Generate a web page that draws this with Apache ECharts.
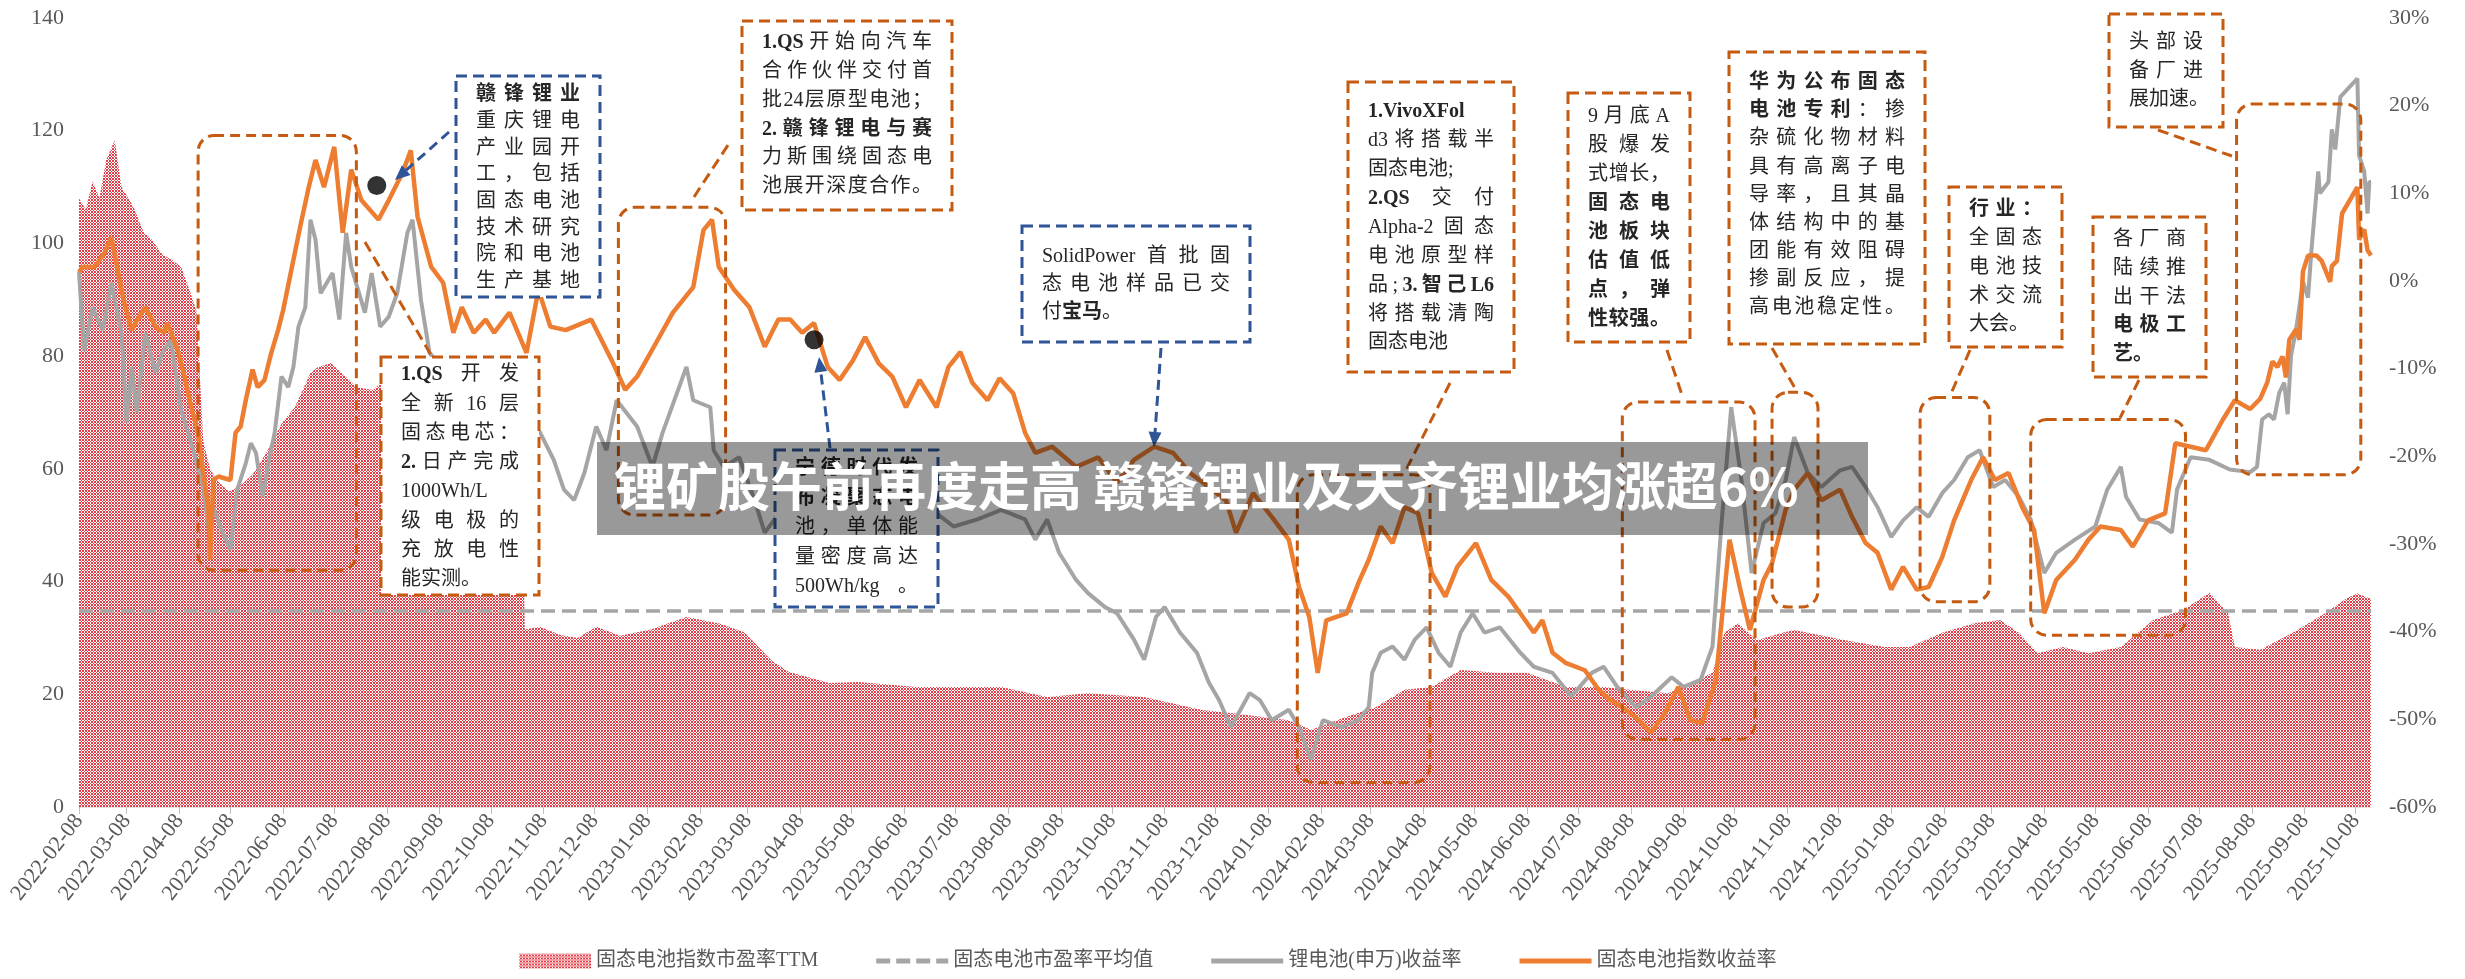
<!DOCTYPE html>
<html><head><meta charset="utf-8">
<script src="https://cdn.jsdelivr.net/npm/echarts@6/dist/echarts.min.js"></script>
<style>html,body{margin:0;padding:0;background:#fff}#c{width:2465px;height:979px}</style>
</head><body><div id="c"></div>
<script>
// ---------------- data ----------------
const monthTicks = ['2022-02-08','2022-03-08','2022-04-08','2022-05-08','2022-06-08','2022-07-08','2022-08-08','2022-09-08','2022-10-08','2022-11-08','2022-12-08','2023-01-08','2023-02-08','2023-03-08','2023-04-08','2023-05-08','2023-06-08','2023-07-08','2023-08-08','2023-09-08','2023-10-08','2023-11-08','2023-12-08','2024-01-08','2024-02-08','2024-03-08','2024-04-08','2024-05-08','2024-06-08','2024-07-08','2024-08-08','2024-09-08','2024-10-08','2024-11-08','2024-12-08','2025-01-08','2025-02-08','2025-03-08','2025-04-08','2025-05-08','2025-06-08','2025-07-08','2025-08-08','2025-09-08','2025-10-08'];
const axisStart = '2022-02-08';
const axisEnd = '2025-10-17';

const peTTM = [['2022-02-08',108],['2022-02-12',106],['2022-02-16',111],['2022-02-20',108],['2022-02-24',114.8],['2022-03-01',118.3],['2022-03-05',110],['2022-03-12',106.5],['2022-03-18',102],['2022-03-23',100.6],['2022-03-29',98],['2022-04-04',97],['2022-04-09',95.8],['2022-04-14',91.7],['2022-04-18',88],['2022-04-22',65],['2022-04-26',60],['2022-04-30',58],['2022-05-07',56],['2022-05-13',56.8],['2022-05-21',59],['2022-05-29',62.8],['2022-06-07',68],['2022-06-15',71],['2022-06-24',77],['2022-06-28',78],['2022-07-06',78.8],['2022-07-15',76.3],['2022-07-21',74.5],['2022-07-31',74],['2022-08-04',75.2],['2022-08-27',77],['2022-09-20',76],['2022-10-13',77],['2022-10-25',75],['2022-10-28',31.5],['2022-11-06',32],['2022-11-18',30.5],['2022-11-28',30],['2022-12-09',32],['2022-12-23',30.4],['2023-01-10',31.5],['2023-01-31',33.7],['2023-02-20',32.5],['2023-03-06',31],['2023-03-22',26],['2023-04-01',24],['2023-04-25',22],['2023-05-12',22.2],['2023-06-15',21.3],['2023-08-04',21.3],['2023-08-31',19.5],['2023-09-24',20.2],['2023-10-27',19.5],['2023-11-30',17.2],['2023-12-17',16.7],['2024-01-20',15.4],['2024-02-02',13.7],['2024-02-23',16],['2024-03-11',17.7],['2024-03-28',20.8],['2024-04-13',21.3],['2024-04-30',24.3],['2024-05-21',23.8],['2024-06-08',23.8],['2024-07-01',21.3],['2024-07-23',21.3],['2024-08-07',20.8],['2024-08-30',20.2],['2024-09-13',22],['2024-09-25',23.8],['2024-10-02',30.9],['2024-10-10',32.6],['2024-10-21',29.6],['2024-11-05',30.9],['2024-11-12',31.4],['2024-12-12',29.6],['2025-01-04',28.4],['2025-01-19',28.4],['2025-02-07',30.9],['2025-02-26',32.6],['2025-03-13',33.2],['2025-03-24',30.9],['2025-04-04',27.3],['2025-04-19',28.4],['2025-05-04',27.3],['2025-05-23',28.4],['2025-06-11',33.2],['2025-06-29',35],['2025-07-14',38],['2025-07-25',34.4],['2025-07-29',28.4],['2025-08-13',27.9],['2025-09-01',30.9],['2025-09-20',34.4],['2025-10-03',37.1],['2025-10-09',37.9],['2025-10-17',36.9]];

const peAverage = 34.8;

const lithiumReturn = [['2022-02-08',1.0],['2022-02-11',-8.0],['2022-02-16',-3.0],['2022-02-22',-5.6],['2022-02-27',-0.2],['2022-03-05',-5.9],['2022-03-08',-16.2],['2022-03-11',-9.8],['2022-03-14',-15.0],['2022-03-19',-5.9],['2022-03-25',-10.5],['2022-03-29',-8.2],['2022-04-03',-6.7],['2022-04-09',-14.7],['2022-04-14',-17.8],['2022-04-22',-23.5],['2022-04-25',-28.0],['2022-04-28',-25.8],['2022-05-02',-28.0],['2022-05-08',-30.7],['2022-05-12',-23.8],['2022-05-17',-20.8],['2022-05-20',-18.5],['2022-05-23',-19.6],['2022-05-27',-24.6],['2022-05-31',-20.1],['2022-06-03',-17.3],['2022-06-07',-10.9],['2022-06-11',-12.1],['2022-06-14',-9.8],['2022-06-17',-5.2],['2022-06-21',-3.0],['2022-06-24',7.0],['2022-06-27',4.7],['2022-06-30',-1.4],['2022-07-07',0.9],['2022-07-11',-4.4],['2022-07-15',5.5],['2022-07-18',1.6],['2022-07-26',-3.6],['2022-07-30',0.9],['2022-08-04',-5.2],['2022-08-09',-4.1],['2022-08-14',-1.4],['2022-08-20',5.5],['2022-08-23',7.0],['2022-08-28',-2.2],['2022-09-02',-8.2],['2022-09-14',-11.0],['2022-09-26',-14.0],['2022-10-08',-12.0],['2022-10-19',-15.0],['2022-10-31',-16.0],['2022-11-06',-17.3],['2022-11-14',-20.4],['2022-11-20',-23.8],['2022-11-26',-25.0],['2022-12-02',-21.9],['2022-12-09',-16.6],['2022-12-15',-19.3],['2022-12-21',-13.6],['2023-01-02',-16.6],['2023-01-11',-21.2],['2023-01-17',-17.3],['2023-01-31',-9.8],['2023-02-04',-13.6],['2023-02-14',-14.4],['2023-02-16',-19.3],['2023-02-22',-21.2],['2023-03-03',-20.1],['2023-03-12',-25.0],['2023-03-18',-28.7],['2023-03-25',-26.9],['2023-03-30',-24.2],['2023-04-08',-25.0],['2023-04-18',-29.5],['2023-05-02',-28.4],['2023-05-15',-26.5],['2023-05-28',-25.0],['2023-06-03',-28.0],['2023-06-17',-29.5],['2023-06-27',-26.5],['2023-07-07',-28.0],['2023-07-21',-27.2],['2023-08-04',-26.1],['2023-08-18',-27.2],['2023-08-24',-29.5],['2023-08-31',-27.2],['2023-09-07',-31.0],['2023-09-17',-34.1],['2023-09-24',-35.6],['2023-10-04',-37.2],['2023-10-11',-37.9],['2023-10-21',-40.9],['2023-10-27',-43.2],['2023-11-03',-38.3],['2023-11-08',-37.2],['2023-11-17',-40.1],['2023-11-27',-42.4],['2023-12-04',-45.8],['2023-12-10',-47.8],['2023-12-17',-50.9],['2023-12-28',-47.0],['2024-01-03',-47.8],['2024-01-10',-50.1],['2024-01-20',-48.9],['2024-01-26',-50.9],['2024-02-02',-54.6],['2024-02-09',-50.1],['2024-02-20',-50.9],['2024-03-01',-50.1],['2024-03-07',-48.6],['2024-03-09',-44.7],['2024-03-14',-42.4],['2024-03-21',-41.7],['2024-03-28',-43.2],['2024-04-03',-40.9],['2024-04-10',-39.5],['2024-04-17',-42.4],['2024-04-24',-44.0],['2024-04-30',-40.1],['2024-05-07',-37.9],['2024-05-14',-40.1],['2024-05-23',-39.5],['2024-06-04',-42.4],['2024-06-12',-44.0],['2024-06-23',-44.7],['2024-07-04',-47.4],['2024-07-16',-44.7],['2024-07-23',-44.0],['2024-07-31',-46.3],['2024-08-11',-48.6],['2024-08-20',-47.4],['2024-09-01',-45.2],['2024-09-08',-46.3],['2024-09-18',-45.5],['2024-09-25',-41.7],['2024-09-30',-28.4],['2024-10-06',-14.4],['2024-10-12',-22.7],['2024-10-18',-33.3],['2024-10-25',-27.6],['2024-11-01',-26.5],['2024-11-07',-22.7],['2024-11-12',-17.8],['2024-11-20',-21.9],['2024-11-28',-23.5],['2024-12-09',-21.6],['2024-12-16',-21.2],['2024-12-24',-23.5],['2024-12-31',-25.8],['2025-01-08',-29.2],['2025-01-15',-27.3],['2025-01-23',-25.8],['2025-01-30',-26.9],['2025-02-07',-24.2],['2025-02-14',-22.7],['2025-02-22',-20.1],['2025-03-01',-19.3],['2025-03-09',-23.5],['2025-03-16',-22.7],['2025-03-24',-24.6],['2025-03-31',-27.2],['2025-04-08',-33.3],['2025-04-15',-31.0],['2025-04-26',-29.5],['2025-05-08',-28.0],['2025-05-15',-23.8],['2025-05-23',-21.2],['2025-05-26',-24.6],['2025-06-03',-27.2],['2025-06-14',-27.6],['2025-06-22',-28.7],['2025-06-25',-23.8],['2025-07-03',-20.1],['2025-07-14',-20.4],['2025-07-26',-21.5],['2025-08-07',-21.8],['2025-08-11',-21.2],['2025-08-14',-15.8],['2025-08-18',-15.2],['2025-08-21',-15.8],['2025-08-24',-12.8],['2025-08-27',-11.6],['2025-08-29',-15.2],['2025-08-31',-8.5],['2025-09-03',-5.5],['2025-09-07',-0.1],['2025-09-10',-1.9],['2025-09-12',3.5],['2025-09-16',12.5],['2025-09-17',10.0],['2025-09-22',11.3],['2025-09-24',17.3],['2025-09-26',15.0],['2025-09-29',21.0],['2025-10-09',23.1],['2025-10-10',14.3],['2025-10-13',12.5],['2025-10-15',7.7],['2025-10-16',11.3],['2025-10-17',11.3]];

const solidStateReturn = [['2022-02-08',1.0],['2022-02-10',1.6],['2022-02-17',1.6],['2022-02-23',3.2],['2022-02-27',5.0],['2022-03-06',-2.0],['2022-03-11',-5.6],['2022-03-14',-4.5],['2022-03-19',-3.0],['2022-03-25',-5.2],['2022-03-30',-5.9],['2022-04-01',-4.8],['2022-04-07',-7.9],['2022-04-11',-10.9],['2022-04-15',-14.4],['2022-04-19',-17.3],['2022-04-22',-21.9],['2022-04-25',-25.8],['2022-04-26',-31.8],['2022-04-28',-22.7],['2022-05-01',-22.3],['2022-05-08',-22.7],['2022-05-11',-17.3],['2022-05-14',-16.6],['2022-05-17',-13.6],['2022-05-21',-10.1],['2022-05-24',-12.1],['2022-05-28',-11.3],['2022-06-01',-8.2],['2022-06-05',-5.6],['2022-06-08',-3.3],['2022-06-10',-1.4],['2022-06-14',2.4],['2022-06-18',6.2],['2022-06-23',10.7],['2022-06-27',13.8],['2022-07-02',10.7],['2022-07-08',15.3],['2022-07-13',5.5],['2022-07-18',12.7],['2022-07-24',9.2],['2022-08-03',7.0],['2022-08-09',9.2],['2022-08-17',12.3],['2022-08-22',14.9],['2022-08-26',7.3],['2022-09-03',1.6],['2022-09-10',-0.2],['2022-09-16',-5.9],['2022-09-21',-3.0],['2022-09-28',-5.9],['2022-10-05',-4.4],['2022-10-10',-5.9],['2022-10-19',-3.6],['2022-10-29',-8.2],['2022-11-05',-1.0],['2022-11-12',-5.2],['2022-11-21',-5.6],['2022-12-06',-4.4],['2022-12-18',-9.0],['2022-12-26',-12.4],['2023-01-02',-10.9],['2023-01-13',-7.1],['2023-01-23',-3.6],['2023-02-04',-0.7],['2023-02-10',5.8],['2023-02-15',7.0],['2023-02-19',1.6],['2023-02-28',-1.0],['2023-03-09',-3.0],['2023-03-18',-7.5],['2023-03-26',-4.4],['2023-04-02',-4.4],['2023-04-09',-5.9],['2023-04-16',-4.8],['2023-04-24',-9.8],['2023-05-01',-11.3],['2023-05-09',-9.0],['2023-05-16',-6.4],['2023-05-24',-9.4],['2023-06-01',-10.9],['2023-06-09',-14.4],['2023-06-17',-11.3],['2023-06-27',-14.4],['2023-07-04',-9.8],['2023-07-11',-8.1],['2023-07-18',-11.6],['2023-07-27',-13.6],['2023-08-03',-11.1],['2023-08-11',-12.8],['2023-08-18',-17.3],['2023-08-24',-19.6],['2023-09-03',-18.9],['2023-09-17',-21.2],['2023-09-30',-20.1],['2023-10-11',-23.0],['2023-10-21',-20.4],['2023-11-02',-18.9],['2023-11-13',-19.6],['2023-11-23',-21.9],['2023-12-04',-23.5],['2023-12-14',-25.0],['2023-12-20',-28.7],['2023-12-30',-24.2],['2024-01-10',-26.9],['2024-01-20',-29.5],['2024-01-26',-34.9],['2024-02-01',-38.3],['2024-02-06',-44.7],['2024-02-11',-38.7],['2024-02-23',-37.9],['2024-03-01',-34.4],['2024-03-07',-31.8],['2024-03-14',-28.0],['2024-03-21',-29.9],['2024-03-28',-25.8],['2024-04-05',-26.5],['2024-04-13',-33.3],['2024-04-21',-36.0],['2024-04-28',-32.6],['2024-05-09',-29.9],['2024-05-18',-34.1],['2024-05-28',-36.0],['2024-06-04',-37.9],['2024-06-12',-40.1],['2024-06-17',-38.7],['2024-06-23',-42.4],['2024-07-01',-43.6],['2024-07-12',-44.4],['2024-07-20',-46.6],['2024-07-27',-47.8],['2024-08-03',-48.6],['2024-08-13',-50.1],['2024-08-20',-51.5],['2024-08-28',-49.3],['2024-09-05',-46.3],['2024-09-12',-50.1],['2024-09-19',-50.4],['2024-09-27',-45.5],['2024-10-05',-29.5],['2024-10-11',-34.9],['2024-10-17',-39.8],['2024-10-25',-34.1],['2024-10-30',-32.2],['2024-11-07',-26.1],['2024-11-12',-23.8],['2024-11-20',-21.9],['2024-11-28',-25.0],['2024-12-09',-23.8],['2024-12-16',-26.9],['2024-12-24',-29.9],['2024-12-31',-31.0],['2025-01-08',-35.2],['2025-01-15',-32.6],['2025-01-23',-35.2],['2025-01-30',-34.9],['2025-02-07',-31.5],['2025-02-14',-27.3],['2025-02-24',-22.7],['2025-03-03',-20.1],['2025-03-10',-22.7],['2025-03-18',-21.9],['2025-03-26',-25.8],['2025-04-02',-28.4],['2025-04-08',-37.9],['2025-04-15',-34.1],['2025-04-26',-31.8],['2025-05-04',-29.5],['2025-05-11',-28.0],['2025-05-23',-28.4],['2025-05-30',-30.3],['2025-06-08',-27.3],['2025-06-18',-26.5],['2025-06-24',-18.5],['2025-07-03',-18.9],['2025-07-12',-19.3],['2025-07-22',-15.8],['2025-07-29',-13.6],['2025-08-07',-14.6],['2025-08-13',-13.4],['2025-08-17',-11.6],['2025-08-20',-9.2],['2025-08-23',-9.8],['2025-08-26',-8.6],['2025-08-28',-11.0],['2025-08-30',-6.7],['2025-09-03',-5.5],['2025-09-05',-6.7],['2025-09-07',1.1],['2025-09-10',2.9],['2025-09-15',2.9],['2025-09-18',2.3],['2025-09-23',-0.1],['2025-09-24',1.7],['2025-09-27',2.3],['2025-09-30',7.7],['2025-10-09',10.7],['2025-10-10',4.7],['2025-10-13',5.9],['2025-10-15',3.5],['2025-10-17',2.9]];

const eventDots = [['2022-08-02',10.9],['2023-04-16',-6.7]];

// highlighted periods (date range, return range on the right axis)
const highlightRanges = [
  ['2022-04-19','2022-07-21',16.6,-33.0],
  ['2022-12-22','2023-02-23',8.4,-26.7],
  ['2024-01-25','2024-04-12',-22.1,-57.2],
  ['2024-08-03','2024-10-20',-13.8,-52.3],
  ['2024-10-30','2024-11-26',-12.7,-37.2],
  ['2025-01-25','2025-03-07',-13.3,-36.6],
  ['2025-03-31','2025-06-30',-15.8,-40.4],
  ['2025-07-30','2025-10-11',20.2,-22.1]
];

const seriesNames = ['固态电池指数市盈率TTM','固态电池市盈率平均值','锂电池(申万)收益率','固态电池指数收益率'];
const titleText = '锂矿股午前再度走高 赣锋锂业及天齐锂业均涨超6%';

// callout texts ('**' toggles bold, leading '<' = not justified)
const calloutTexts = [
  ['**赣锋锂业**','重庆锂电','产业园开','工，包括','固态电池','技术研究','院和电池','生产基地'],
  ['**1.QS** 开 发','全新16层','固态电芯：','**2.**日产完成','1000Wh/L','级电极的','充放电性','<能实测。'],
  ['**1.QS**开始向汽车','合作伙伴交付首','批24层原型电池；','**2.赣锋锂电与赛**','力斯围绕固态电','池展开深度合作。'],
  ['**宁德时代发**','**布凝聚态电**','池，单体能','量密度高达','500Wh/kg 。'],
  ['SolidPower首批固','态电池样品已交','<付**宝马**。'],
  ['**1.VivoXFol**','d3将搭载半','<固态电池;','**2.QS** 交 付','Alpha-2固态','电池原型样','品;**3.智己L6**','将搭载清陶','<固态电池'],
  ['9月底A','股爆发','式增长，','**固态电**','**池板块**','**估值低**','**点，弹**','**性较强。**'],
  ['**华为公布固态**','**电池专利**：掺','杂硫化物材料','具有高离子电','导率，且其晶','体结构中的基','团能有效阻碍','掺副反应，提','高电池稳定性。'],
  ['**行业：**','全固态','电池技','术交流','<大会。'],
  ['各厂商','陆续推','出干法','**电极工**','<**艺。**'],
  ['头部设','备厂进','<展加速。']
];

// ---------------- layout / style ----------------
const ORANGE_BOX = '#C55A11', BLUE_BOX = '#2F5597';
const SERIF = '"Liberation Serif", "Noto Sans CJK SC"';
const calloutLayout = [
  {x:456,y:76,w:144,h:221,c:BLUE_BOX,y0:95,dy:26.7},
  {x:381,y:357,w:158,h:238,c:ORANGE_BOX,y0:375,dy:29.3},
  {x:742,y:21,w:210,h:189,c:ORANGE_BOX,y0:43,dy:28.8},
  {x:775,y:450,w:163,h:157,c:BLUE_BOX,y0:469,dy:29.5},
  {x:1022,y:226,w:228,h:116,c:BLUE_BOX,y0:257,dy:28},
  {x:1348,y:82,w:166,h:290,c:ORANGE_BOX,y0:112,dy:28.9},
  {x:1568,y:93,w:122,h:249,c:ORANGE_BOX,y0:117,dy:29},
  {x:1729,y:52,w:196,h:292,c:ORANGE_BOX,y0:83,dy:28.1},
  {x:1949,y:187,w:113,h:160,c:ORANGE_BOX,y0:210,dy:28.75},
  {x:2093,y:217,w:113,h:160,c:ORANGE_BOX,y0:240,dy:28.75},
  {x:2109,y:14,w:114,h:113,c:ORANGE_BOX,y0:43,dy:28.5}
];
const connectors = [
  [365,242,431,355],[694,197,730,142],[1450,383,1404,474],[1667,350,1683,398],
  [1772,348,1796,390],[1970,350,1950,396],[2139,380,2120,418],[2158,130,2232,156]
];
const arrows = [[449,132,395,180],[830,448,819,357],[1161,348,1154,447]];

function ts(s){const p=s.split('-').map(Number);return new Date(p[0],p[1]-1,p[2]).getTime();}
function toTs(arr){return arr.map(d=>[ts(d[0]),d[1]]);}

// hatch pattern
const pat = document.createElement('canvas'); pat.width=3; pat.height=3;
(function(){const g=pat.getContext('2d');const im=g.createImageData(3,3);
 for(let y=0;y<3;y++)for(let x=0;x<3;x++){const i=(y*3+x)*4;const red=((x+y)%3===0)||((x-y+3)%3===0);
  im.data[i]=red?226:255;im.data[i+1]=red?62:255;im.data[i+2]=red?72:255;im.data[i+3]=255;}
 g.putImageData(im,0,0);})();
const hatch = {image: pat, repeat: 'repeat'};

const LINE_ICON = 'path://M0,0h72v5h-72z';
const DASH_ICON = 'path://M0,0h14v5h-14z M20,0h14v5h-14z M40,0h14v5h-14z M60,0h12v5h-12z';

const chart = echarts.init(document.getElementById('c'), null, {width:2465, height:979});
const pad2 = n => (n<10?'0':'')+n;
const tickTs = monthTicks.map(ts);
const option = {
  animation:false,
  backgroundColor:'#fff',
  grid:{left:79,right:94,top:18,bottom:172,containLabel:false,outerBoundsMode:'none'},
  legend:{left:514,top:946,itemWidth:72,itemHeight:15,itemGap:58,
    textStyle:{fontSize:20,color:'#595959',fontFamily:SERIF},
    data:[{name:seriesNames[0],icon:'rect',itemStyle:{color:hatch}},
          {name:seriesNames[1],icon:DASH_ICON,itemStyle:{color:'#A5A5A5'}},
          {name:seriesNames[2],icon:LINE_ICON,itemStyle:{color:'#A5A5A5'}},
          {name:seriesNames[3],icon:LINE_ICON,itemStyle:{color:'#ED7D31'}}]},
  xAxis:{type:'value',min:ts(axisStart),max:ts(axisEnd),scale:true,
    axisLine:{show:true,onZero:false,lineStyle:{color:'#D9D9D9',width:1.5}},
    axisTick:{show:true,length:7,lineStyle:{color:'#BFBFBF'},customValues:tickTs},
    splitLine:{show:false},
    axisLabel:{customValues:tickTs,rotate:52,margin:10,fontSize:22,color:'#595959',fontFamily:'"Liberation Serif"',hideOverlap:false,
      formatter:v=>{const d=new Date(v);return d.getFullYear()+'-'+pad2(d.getMonth()+1)+'-'+pad2(d.getDate());}}},
  yAxis:[
    {type:'value',min:0,max:140,interval:20,axisLine:{show:false},axisTick:{show:false},splitLine:{show:false},
     axisLabel:{fontSize:22,color:'#595959',fontFamily:'"Liberation Serif"',margin:15}},
    {type:'value',min:-60,max:30,interval:10,position:'right',axisLine:{show:false},axisTick:{show:false},splitLine:{show:false},
     axisLabel:{fontSize:22,color:'#595959',fontFamily:'"Liberation Serif"',margin:18,formatter:'{value}%'}}
  ],
  series:[
    {name:seriesNames[0],type:'line',yAxisIndex:0,data:toTs(peTTM),symbol:'none',z:1,
     itemStyle:{color:'#E23E48'},lineStyle:{width:0},areaStyle:{color:hatch,opacity:1}},
    {name:seriesNames[1],type:'line',yAxisIndex:0,data:[[ts(axisStart),peAverage],[ts(axisEnd),peAverage]],symbol:'none',z:2,
     itemStyle:{color:'#A5A5A5'},lineStyle:{color:'#A5A5A5',width:3.5,type:[14,7]}},
    {name:seriesNames[2],type:'line',yAxisIndex:1,data:toTs(lithiumReturn),symbol:'none',z:3,
     itemStyle:{color:'#A5A5A5'},lineStyle:{color:'#A5A5A5',width:4}},
    {name:seriesNames[3],type:'line',yAxisIndex:1,data:toTs(solidStateReturn),symbol:'none',z:4,
     itemStyle:{color:'#ED7D31'},lineStyle:{color:'#ED7D31',width:4.5}},
    {name:'事件',type:'scatter',yAxisIndex:1,data:toTs(eventDots),symbolSize:19,z:6,itemStyle:{color:'#000'},silent:true}
  ]
};
chart.setOption(option);

// ---------------- annotations ----------------
const mctx = document.createElement('canvas').getContext('2d');
function fontStr(b){return (b?'bold ':'')+'20px '+SERIF;}
function tokens(line){
  const out=[]; line.split('**').forEach((p,i)=>{const re=/[\x21-\x7e]+|[^\s\x21-\x7e]/g;let m;while((m=re.exec(p)))out.push({t:m[0],b:i%2===1});});
  out.forEach(o=>{mctx.font=fontStr(o.b);o.w=mctx.measureText(o.t).width;}); return out;
}
const els=[];
calloutLayout.forEach((L,bi)=>{
  els.push({type:'rect',z:20,shape:{x:L.x,y:L.y,width:L.w,height:L.h},style:{fill:'#fff',stroke:L.c,lineWidth:3,lineDash:[11,6]}});
  const W=L.w-40, x0=L.x+20;
  calloutTexts[bi].forEach((raw,li)=>{
    let line=raw, just=true; if(line[0]==='<'){just=false;line=line.slice(1);}
    const tk=tokens(line); const sum=tk.reduce((a,o)=>a+o.w,0);
    let gap=0; if(just&&tk.length>1){gap=Math.max(-1.5,(W-sum)/(tk.length-1));}
    let x=x0; const y=L.y0+li*L.dy;
    tk.forEach(o=>{els.push({type:'text',z:21,x:x,y:y,style:{text:o.t,font:fontStr(o.b),fill:'#262626',verticalAlign:'middle',align:'left'}});x+=o.w+gap;});
  });
});
connectors.forEach(c=>els.push({type:'line',z:19,shape:{x1:c[0],y1:c[1],x2:c[2],y2:c[3]},style:{stroke:ORANGE_BOX,lineWidth:3,lineDash:[11,6]}}));
arrows.forEach(a=>{
  const ang=Math.atan2(a[3]-a[1],a[2]-a[0]),Lh=15,Wh=6.5;
  const bx=a[2]-Lh*Math.cos(ang),by=a[3]-Lh*Math.sin(ang),px=-Math.sin(ang)*Wh,py=Math.cos(ang)*Wh;
  els.push({type:'line',z:19,shape:{x1:a[0],y1:a[1],x2:bx,y2:by},style:{stroke:BLUE_BOX,lineWidth:3,lineDash:[10,6]}});
  els.push({type:'polygon',z:19,shape:{points:[[a[2],a[3]],[bx+px,by+py],[bx-px,by-py]]},style:{fill:BLUE_BOX}});
});
highlightRanges.forEach(h=>{
  const p1=chart.convertToPixel({xAxisIndex:0,yAxisIndex:1},[ts(h[0]),h[2]]);
  const p2=chart.convertToPixel({xAxisIndex:0,yAxisIndex:1},[ts(h[1]),h[3]]);
  els.push({type:'rect',z:18,shape:{x:p1[0],y:p1[1],width:p2[0]-p1[0],height:p2[1]-p1[1],r:16},style:{fill:'none',stroke:ORANGE_BOX,lineWidth:3,lineDash:[10,6]}});
});
els.push({type:'rect',z:40,shape:{x:597,y:442,width:1271,height:93},style:{fill:'rgba(0,0,0,0.4)'}});
els.push({type:'text',z:41,x:614,y:486,style:{text:titleText,font:'bold 52px "Noto Sans CJK SC"',fill:'#fff',verticalAlign:'middle',align:'left'}});
chart.setOption({graphic:{elements:els}});
</script>
</body></html>
